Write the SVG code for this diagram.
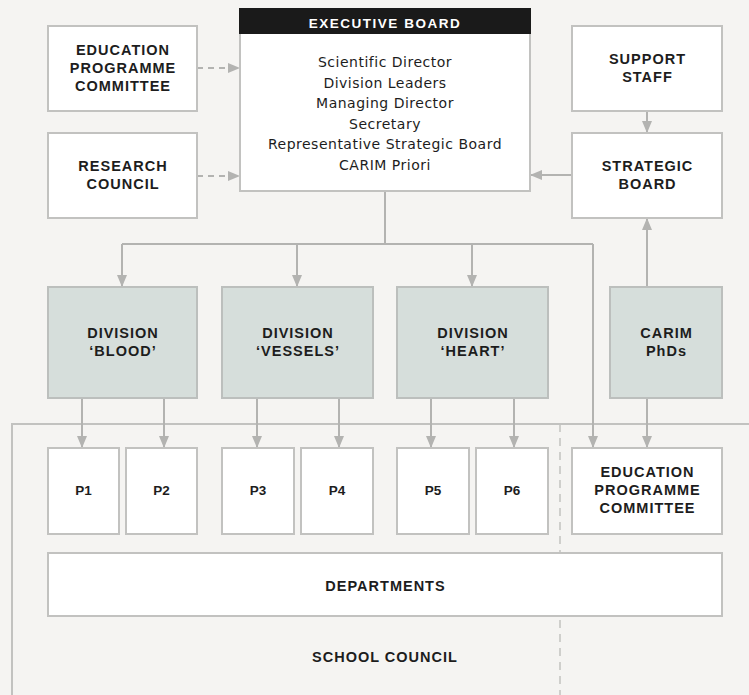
<svg xmlns="http://www.w3.org/2000/svg" width="749" height="695" viewBox="0 0 749 695">
  <defs>
    <marker id="arr" viewBox="0 0 12 10" refX="12" refY="5" markerWidth="12" markerHeight="10" markerUnits="userSpaceOnUse" orient="auto">
      <path d="M0,0 L12,5 L0,10 Z" fill="#b3b3b1"/>
    </marker>
    <style>
      .box { fill: #ffffff; stroke: #c2c2c0; stroke-width: 2; }
      .div { fill: #d6dedb; stroke: #bcbfbd; stroke-width: 2; }
      .lbl { font-family: "Liberation Sans", Arial, sans-serif; font-weight: bold; font-size: 14.5px; letter-spacing: 1px; fill: #1d1d1d; text-anchor: middle; }
      .p { font-size: 13.5px; letter-spacing: 0px; }
      .lst { font-family: "DejaVu Sans", "Liberation Sans", sans-serif; font-size: 14px; letter-spacing: 0.5px; fill: #1d1d1d; text-anchor: middle; }
      .hdr { font-family: "Liberation Sans", Arial, sans-serif; font-weight: bold; font-size: 13.5px; letter-spacing: 1.5px; fill: #ffffff; text-anchor: middle; }
      .ln { fill: none; stroke: #b3b3b1; stroke-width: 2; }
      .dash { fill: none; stroke: #b3b3b1; stroke-width: 2; stroke-dasharray: 6 5; }
      .sc { fill: none; stroke: #c2c2c0; stroke-width: 2; }
      .scd { fill: none; stroke: #c2c2c0; stroke-width: 1.5; stroke-dasharray: 8 6; }
    </style>
  </defs>
  <rect width="749" height="695" fill="#f5f4f2"/>

  <!-- school council frame -->
  <g id="school-council">
    <path class="sc" d="M12,695 V424 H749"/>
    <path class="scd" d="M560,424 V695"/>
    <text class="lbl" x="385" y="662">SCHOOL COUNCIL</text>
  </g>

  <!-- connectors -->
  <g id="connectors">
    <path class="dash" d="M197,68 H240" marker-end="url(#arr)"/>
    <path class="dash" d="M197,176 H240" marker-end="url(#arr)"/>
    <path class="ln" d="M647,111 V133" marker-end="url(#arr)"/>
    <path class="ln" d="M572,175 H530" marker-end="url(#arr)"/>
    <path class="ln" d="M647,287 V218" marker-end="url(#arr)"/>
    <path class="ln" d="M385,191 V244"/>
    <path class="ln" d="M122,244 H593"/>
    <path class="ln" d="M122,244 V287" marker-end="url(#arr)"/>
    <path class="ln" d="M297,244 V287" marker-end="url(#arr)"/>
    <path class="ln" d="M472,244 V287" marker-end="url(#arr)"/>
    <path class="ln" d="M593,244 V448" marker-end="url(#arr)"/>
    <path class="ln" d="M82,398 V448" marker-end="url(#arr)"/>
    <path class="ln" d="M164,398 V448" marker-end="url(#arr)"/>
    <path class="ln" d="M257,398 V448" marker-end="url(#arr)"/>
    <path class="ln" d="M339,398 V448" marker-end="url(#arr)"/>
    <path class="ln" d="M431,398 V448" marker-end="url(#arr)"/>
    <path class="ln" d="M514,398 V448" marker-end="url(#arr)"/>
    <path class="ln" d="M647,398 V448" marker-end="url(#arr)"/>
  </g>

  <g id="education-programme-committee-top">
    <rect class="box" x="48" y="26" width="149" height="85"/>
    <text class="lbl" x="123" y="55">EDUCATION</text>
    <text class="lbl" x="123" y="73">PROGRAMME</text>
    <text class="lbl" x="123" y="91">COMMITTEE</text>
  </g>

  <g id="research-council">
    <rect class="box" x="48" y="133" width="149" height="85"/>
    <text class="lbl" x="123" y="171">RESEARCH</text>
    <text class="lbl" x="123" y="189">COUNCIL</text>
  </g>

  <g id="executive-board">
    <rect class="box" x="240" y="9" width="290" height="182"/>
    <rect x="239" y="8" width="292" height="26" fill="#1a1a1a"/>
    <text class="hdr" x="385" y="27.5">EXECUTIVE BOARD</text>
    <text class="lst" x="385" y="67">Scientific Director</text>
    <text class="lst" x="385" y="87.5">Division Leaders</text>
    <text class="lst" x="385" y="108">Managing Director</text>
    <text class="lst" x="385" y="128.5">Secretary</text>
    <text class="lst" x="385" y="149">Representative Strategic Board</text>
    <text class="lst" x="385" y="169.5">CARIM Priori</text>
  </g>

  <g id="support-staff">
    <rect class="box" x="572" y="26" width="150" height="85"/>
    <text class="lbl" x="647.5" y="64">SUPPORT</text>
    <text class="lbl" x="647.5" y="82">STAFF</text>
  </g>

  <g id="strategic-board">
    <rect class="box" x="572" y="133" width="150" height="85"/>
    <text class="lbl" x="647.5" y="171">STRATEGIC</text>
    <text class="lbl" x="647.5" y="189">BOARD</text>
  </g>

  <g id="division-blood">
    <rect class="div" x="48" y="287" width="149" height="111"/>
    <text class="lbl" x="123" y="338">DIVISION</text>
    <text class="lbl" x="123" y="356">‘BLOOD’</text>
  </g>

  <g id="division-vessels">
    <rect class="div" x="222" y="287" width="151" height="111"/>
    <text class="lbl" x="298" y="338">DIVISION</text>
    <text class="lbl" x="298" y="356">‘VESSELS’</text>
  </g>

  <g id="division-heart">
    <rect class="div" x="397" y="287" width="151" height="111"/>
    <text class="lbl" x="473" y="338">DIVISION</text>
    <text class="lbl" x="473" y="356">‘HEART’</text>
  </g>

  <g id="carim-phds">
    <rect class="div" x="610" y="287" width="112" height="111"/>
    <text class="lbl" x="666.5" y="338">CARIM</text>
    <text class="lbl" x="666.5" y="356">PhDs</text>
  </g>

  <g id="p1"><rect class="box" x="48" y="448" width="71" height="86"/><text class="lbl p" x="83.5" y="495">P1</text></g>
  <g id="p2"><rect class="box" x="126" y="448" width="71" height="86"/><text class="lbl p" x="161.5" y="495">P2</text></g>
  <g id="p3"><rect class="box" x="222" y="448" width="72" height="86"/><text class="lbl p" x="258" y="495">P3</text></g>
  <g id="p4"><rect class="box" x="301" y="448" width="72" height="86"/><text class="lbl p" x="337" y="495">P4</text></g>
  <g id="p5"><rect class="box" x="397" y="448" width="72" height="86"/><text class="lbl p" x="433" y="495">P5</text></g>
  <g id="p6"><rect class="box" x="476" y="448" width="72" height="86"/><text class="lbl p" x="512" y="495">P6</text></g>

  <g id="education-programme-committee">
    <rect class="box" x="572" y="448" width="150" height="86"/>
    <text class="lbl" x="647.5" y="477">EDUCATION</text>
    <text class="lbl" x="647.5" y="495">PROGRAMME</text>
    <text class="lbl" x="647.5" y="513">COMMITTEE</text>
  </g>

  <g id="departments">
    <rect class="box" x="48" y="553" width="674" height="63"/>
    <text class="lbl" x="385.5" y="591">DEPARTMENTS</text>
  </g>
</svg>
